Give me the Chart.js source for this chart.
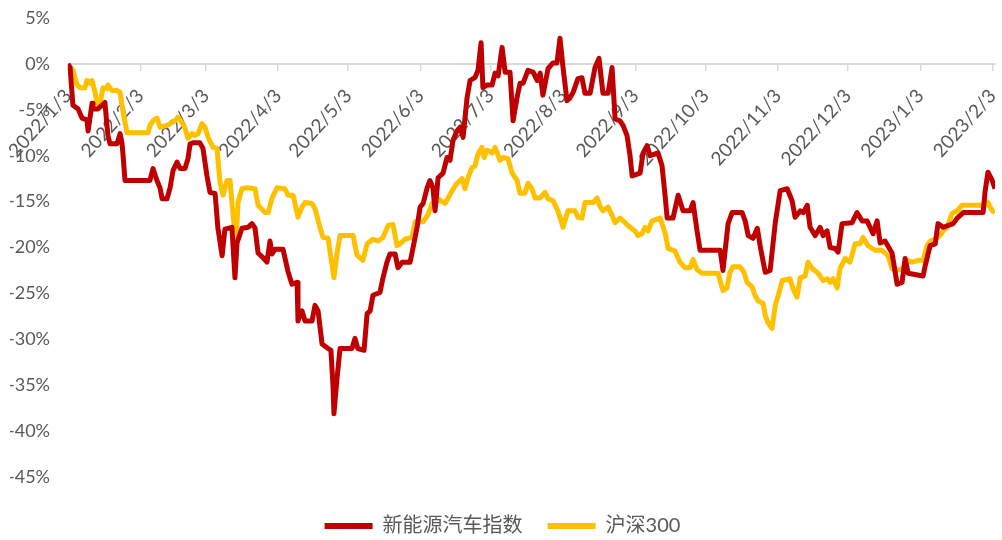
<!DOCTYPE html>
<html lang="zh-CN">
<head>
  <meta charset="UTF-8" />
  <title>新能源汽车指数 vs 沪深300</title>
  <script src="https://cdn.jsdelivr.net/npm/chart.js"></script>
  <style>
    html, body { margin: 0; padding: 0; background: #fff; }
    #wrap { width: 1002px; height: 540px; }
  </style>
</head>
<body>
  <div id="wrap"><canvas id="lineChart"></canvas></div>

  <script>
    // x values: days since 2022/1/3, y values: cumulative return (%)
    var startDate = '2022/1/3';
    var tickLabels = ['2022/1/3', '2022/2/3', '2022/3/3', '2022/4/3', '2022/5/3', '2022/6/3', '2022/7/3',
      '2022/8/3', '2022/9/3', '2022/10/3', '2022/11/3', '2022/12/3', '2023/1/3', '2023/2/3'];
    var yTicks = [5, 0, -5, -10, -15, -20, -25, -30, -35, -40, -45];
    var seriesNames = ['新能源汽车指数', '沪深300'];

    // 新能源汽车指数
    var evDays = [0, 0.9, 2.1, 4.3, 6, 8.1, 8.6, 9.4, 10.3, 10.7, 12.8, 14.6, 15.8, 17.1, 18, 21, 22.3, 23.1, 23.6, 24.4,
      35.1, 36.4, 38.1, 39.4, 40.3, 42.4, 43.7, 45, 46.7, 48, 50.1, 51.4, 52.3, 53.5, 56.5, 57.8, 59.5, 60.8, 63, 64.2,
      66, 67.2, 70.2, 71.5, 72.4, 74.5, 77.1, 78.8, 80.1, 81.4, 83.5, 85.2, 86.5, 87.4, 88.7, 92.1, 94.2, 95.9, 98.1, 98.5,
      100.2, 101.5, 104.5, 105.8, 107.1, 108.8, 111.4, 112.6, 113.5, 113.9, 115.2, 116.5, 121.6, 122.9, 124.1, 126.8, 128.1, 129.4, 130.6, 133.6,
      134.9, 136.6, 137.9, 140.1, 141.3, 143.1, 146.5, 147.8, 149.5, 150.8, 152.1, 153.8, 155, 156.3, 157.2, 158.5, 160.6, 162.3, 163.6, 164.9,
      166.6, 167.9, 169.2, 170.9, 172.2, 174.3, 175.6, 176.9, 177.7, 179.5, 181.6, 182.9, 184.2, 185.9, 187.2, 189.3, 190.6, 192.3, 193.6, 194.9,
      197, 199.2, 200.9, 202.2, 203.4, 205.6, 207.7, 209.4, 210.7, 212, 213.7, 215, 216.3, 218.4, 220.1, 221.4, 223.6, 225.7, 227.4, 229.1,
      231.3, 233, 234.3, 236.4, 237.7, 239.4, 240.7, 241.6, 245, 246.3, 248, 249.3, 252.7, 254.4, 255.7, 256.6, 259.1, 261.3, 263.4, 266.4,
      267.7, 269.4, 270.7, 279.3, 280.5, 282.7, 284.4, 288.7, 290, 291.3, 293.4, 295.2, 296.4, 298.6, 300.7, 302.9, 305, 308, 310.1, 311.4,
      313.6, 314.9, 316.6, 317.8, 320, 322.1, 323.4, 325.1, 326.4, 328.5, 329.8, 331.5, 335.8, 337.9, 340.1, 342.2, 344.8, 346.5, 347.8, 349.9,
      352.9, 355.1, 357.2, 358.5, 359.8, 366.2, 367.1, 369.2, 371.4, 372.6, 374.8, 376.9, 379.1, 380.8, 383.4, 391.9, 392.8, 394, 395.8, 397];
    var evValues = [0, -0.4, -4.5, -4.9, -5.9, -6.1, -7.3, -5.9, -4.3, -4.9, -4.9, -4.5, -4.2, -7.8, -8.7, -8.7, -7.6, -8.6, -10, -12.7,
      -12.7, -11.4, -12.7, -13.5, -14.7, -14.7, -13.5, -11.6, -10.7, -11.4, -11.4, -10.3, -8.7, -8.6, -8.6, -9.2, -12.2, -14, -14.1, -17.9,
      -20.9, -18, -17.8, -23.3, -19.5, -17.9, -17.8, -17.4, -17.9, -20.6, -21.1, -21.6, -19.3, -20.7, -20.2, -20.2, -22.6, -24, -23.8, -28,
      -26.9, -28, -28, -26.3, -26.9, -30.5, -31, -31.2, -35.1, -38.1, -34.3, -31, -31, -29.9, -31, -31.2, -27.2, -26.9, -25.2, -24.9,
      -23.3, -21.6, -20.7, -20.7, -22.2, -21.6, -21.6, -20, -17.8, -15.6, -15.2, -13.5, -12.7, -13.5, -16, -12.4, -11.9, -10.2, -10.5, -8.3,
      -7.3, -6.9, -8, -3.7, -1.8, -1.5, -0.7, 2.3, -2.6, -2.3, -2.3, -1, -1.3, 1.8, -0.9, -0.9, -6.2, -3.7, -2.1, -2.1,
      -0.7, -0.9, -1.8, -1, -3.4, -0.5, 0.1, 0.1, 2.8, -0.4, -4, -3.7, -3.1, -1.6, -1.5, -3.2, -3.2, -0.4, 0.6, -3.2,
      -3.2, -0.4, -6, -6.2, -6.7, -7.8, -10, -12.2, -11.9, -9.7, -8.9, -10, -9.7, -11.1, -14.3, -16.8, -16.8, -14.3, -16, -16,
      -15.1, -18.2, -20.3, -20.3, -22.5, -17.4, -16.2, -16.2, -17.1, -18.7, -19, -17.9, -19.8, -22.7, -22.5, -17.3, -13.8, -13.6, -14.9, -16.7,
      -16, -16.2, -15.4, -17.8, -18.7, -17.8, -18.7, -18.2, -20, -20.1, -20.5, -17.4, -17.3, -16.2, -17.1, -17.1, -18.5, -17.1, -19.5, -19.3,
      -20.6, -24, -23.8, -21.2, -22.8, -23.1, -22, -19.8, -19.6, -17.4, -17.8, -17.6, -17.4, -16.8, -16.2, -16.2, -13.8, -11.8, -12.7, -13.6];

    // 沪深300
    var hsDays = [0, 2.1, 3.9, 5.1, 7.3, 8.1, 9.4, 10.3, 11.6, 12.4, 13.7, 15, 16.7, 17.1, 18.8, 21, 22.3, 23.6, 25.3, 34.3,
      35.1, 36.4, 38.1, 39.4, 42.4, 44.5, 45.8, 47.1, 48.8, 50.1, 51.4, 53.1, 54.4, 55.7, 57.4, 58.7, 60, 62.1, 63.8, 65.1,
      66.4, 68.1, 69.4, 70.7, 72, 72.8, 74.5, 76.7, 80.1, 81.4, 84.4, 85.7, 87.4, 89.5, 92.9, 94.2, 96.4, 98.5, 100.2, 101.5,
      104.5, 105.8, 107.9, 109.2, 111.4, 113.1, 113.9, 115.2, 116.5, 122.1, 123.7, 126.3, 128.1, 130.6, 132.8, 134.9, 137.1, 139.2, 140.9, 142.2,
      144.3, 147.3, 148.7, 152.1, 154.2, 155.9, 157.2, 158.5, 161.5, 162.8, 164.5, 166.6, 168.8, 170, 171.3, 173, 174.3, 175.6, 177.3, 178.2,
      179.5, 181.6, 182.9, 185, 186.3, 188.4, 190.2, 192.3, 193.6, 195.7, 197, 198.7, 200, 202.2, 204.3, 205.6, 207.7, 209.4, 210.7, 212,
      214.1, 217.1, 218.4, 220.1, 221.4, 224.9, 226.6, 227.8, 229.1, 231.3, 233, 234.3, 236.4, 238.6, 240.7, 242.8, 244.1, 245.8, 247.1, 248.4,
      250.1, 253.6, 255.7, 257, 260, 262.1, 264.3, 266.4, 267.7, 269.4, 271.5, 278.4, 279.7, 280.5, 282.2, 283.5, 284.8, 287.8, 289.5, 290.8,
      293, 294.2, 295.5, 297.7, 298.6, 299.8, 301.5, 302.9, 304.2, 305.9, 309.2, 310.5, 312.2, 313.6, 315.7, 316.9, 318.7, 320.8, 322.1, 323.4,
      325.1, 326.4, 327.7, 329.4, 330.6, 332.8, 334.9, 337.1, 339.2, 340.5, 342.6, 345.6, 348.6, 351.2, 352.9, 355.1, 357.6, 359.4, 361.5, 364.1,
      366.2, 367.9, 369.2, 371.4, 373.5, 374.8, 376.5, 378.6, 380.8, 382.9, 392.8, 394, 395.8, 397];
    var hsValues = [0, -0.7, -2.3, -2.6, -2.6, -1.8, -2.1, -1.8, -3.1, -4.3, -4.3, -2.6, -2.7, -2.3, -2.9, -2.9, -3.1, -5.3, -7.5, -7.5,
      -6.7, -6.2, -5.9, -6.9, -6.7, -6.4, -6.2, -5.8, -6.4, -7, -8.1, -7.6, -7.8, -7.6, -6.5, -6.9, -8, -9.1, -9.2, -12.9,
      -14.3, -12.7, -12.7, -16.5, -19.5, -15.1, -13.6, -13.5, -13.6, -15.4, -16.2, -16.2, -14.6, -13.5, -13.6, -14.3, -14.3, -16.7, -15.6, -15.1,
      -15.2, -15.8, -17.8, -18.9, -19, -22, -23.3, -20.7, -18.7, -18.7, -20.8, -21.4, -19.6, -19.1, -19.3, -18.9, -17.6, -17.5, -19.8, -19.6,
      -19.1, -18.9, -17.2, -17.2, -16.4, -15.2, -15.4, -14.7, -15.2, -14.6, -13.8, -13, -12.5, -13.6, -12.4, -11.3, -11.1, -9.8, -9.1, -10.2,
      -9.4, -9.7, -9.1, -10.5, -10.2, -10.3, -11.9, -12.7, -14.1, -14.1, -13, -13.6, -14.6, -14.6, -14, -14.7, -14.9, -15.8, -16.7, -17.8,
      -16, -16, -16.7, -16.8, -15.1, -15.1, -14.6, -15.5, -16, -15.6, -16.5, -17.3, -16.8, -17.3, -17.8, -18.2, -18.7, -18.5, -17.8, -18.2,
      -17.1, -16.8, -18.4, -20.1, -20.4, -21.6, -22.2, -22.2, -21.3, -22.4, -22.8, -22.8, -24, -24.7, -24.4, -22.7, -22.1, -22.1, -22.7, -23.8,
      -24.3, -25.2, -25.8, -26.1, -27.4, -28.2, -28.8, -26.3, -25.2, -23.6, -23.4, -24.5, -25.4, -23.3, -23.1, -21.6, -22.3, -22.7, -23.1, -23.6,
      -23.4, -23.8, -23.4, -24.4, -22.3, -21.2, -21.6, -19.6, -19.6, -18.9, -19.8, -20.3, -20.3, -20.9, -22.3, -22.5, -22.3, -21.4, -21.6, -21.4,
      -21.4, -19.8, -19.3, -19.1, -18.7, -18.2, -17.8, -16.3, -16, -15.4, -15.4, -15.1, -16, -16.2];

    function dayOffset(label) {
      var p = label.split('/').map(Number);
      var s = startDate.split('/').map(Number);
      return Math.round((Date.UTC(p[0], p[1] - 1, p[2]) - Date.UTC(s[0], s[1] - 1, s[2])) / 86400000);
    }
    var tickDays = tickLabels.map(dayOffset);

    function toPoints(days, values) {
      return days.map(function (d, i) { return { x: d, y: values[i] }; });
    }

    var fontFamily = 'Lato, "Noto Sans CJK SC", sans-serif';
    var textColor = '#595959';

    // push the legend a little lower, closer to the bottom edge
    var legendShift = {
      id: 'legendShift',
      afterLayout: function (chart) {
        if (chart.legend) {
          chart.legend.top += 14;
          chart.legend.bottom += 14;
        }
      }
    };

    var ctx = document.getElementById('lineChart').getContext('2d');
    new Chart(ctx, {
      type: 'line',
      data: {
        datasets: [
          {
            label: seriesNames[0],
            data: toPoints(evDays, evValues),
            borderColor: '#C00000',
            backgroundColor: '#C00000',
            borderWidth: 5,
            borderJoinStyle: 'round',
            pointRadius: 0,
            tension: 0
          },
          {
            label: seriesNames[1],
            data: toPoints(hsDays, hsValues),
            borderColor: '#FFC000',
            backgroundColor: '#FFC000',
            borderWidth: 5,
            borderJoinStyle: 'round',
            pointRadius: 0,
            tension: 0
          }
        ]
      },
      plugins: [legendShift],
      options: {
        responsive: true,
        maintainAspectRatio: false,
        animation: false,
        layout: { padding: { top: 18, right: 7, bottom: 8, left: 10 } },
        plugins: {
          tooltip: { enabled: false },
          legend: {
            position: 'bottom',
            labels: {
              color: textColor,
              font: { family: fontFamily, size: 20 },
              boxWidth: 48,
              boxHeight: 6,
              padding: 25,
              generateLabels: function (chart) {
                return Chart.defaults.plugins.legend.labels.generateLabels(chart).map(function (l) {
                  l.lineWidth = 0;
                  l.fillStyle = l.strokeStyle;
                  return l;
                });
              }
            }
          }
        },
        scales: {
          x: {
            type: 'linear',
            min: 0,
            max: 397,
            position: { y: 0 },
            z: 1,
            afterBuildTicks: function (scale) {
              scale.ticks = tickDays.map(function (d) { return { value: d }; });
            },
            afterFit: function (scale) {
              scale.paddingLeft = 0;
              scale.paddingRight = 0;
            },
            grid: {
              drawOnChartArea: false,
              drawTicks: true,
              tickLength: 6,
              color: '#d9d9d9',
              lineWidth: 1.5
            },
            border: { display: true, color: '#d9d9d9', width: 2 },
            ticks: {
              autoSkip: false,
              minRotation: 48,
              maxRotation: 48,
              color: textColor,
              font: { family: fontFamily, size: 19 },
              padding: 15,
              callback: function (value) {
                var i = tickDays.indexOf(value);
                return i >= 0 ? tickLabels[i] : '';
              }
            }
          },
          y: {
            min: -45,
            max: 5,
            afterFit: function (scale) {
              scale.width = 58;
              scale.paddingTop = 0;
              scale.paddingBottom = 0;
            },
            afterBuildTicks: function (scale) {
              scale.ticks = yTicks.map(function (v) { return { value: v }; });
            },
            grid: { display: false, drawTicks: false },
            border: { display: false },
            ticks: {
              color: textColor,
              font: { family: fontFamily, size: 18 },
              padding: 18,
              callback: function (value) { return value + '%'; }
            }
          }
        }
      }
    });
  </script>
</body>
</html>
